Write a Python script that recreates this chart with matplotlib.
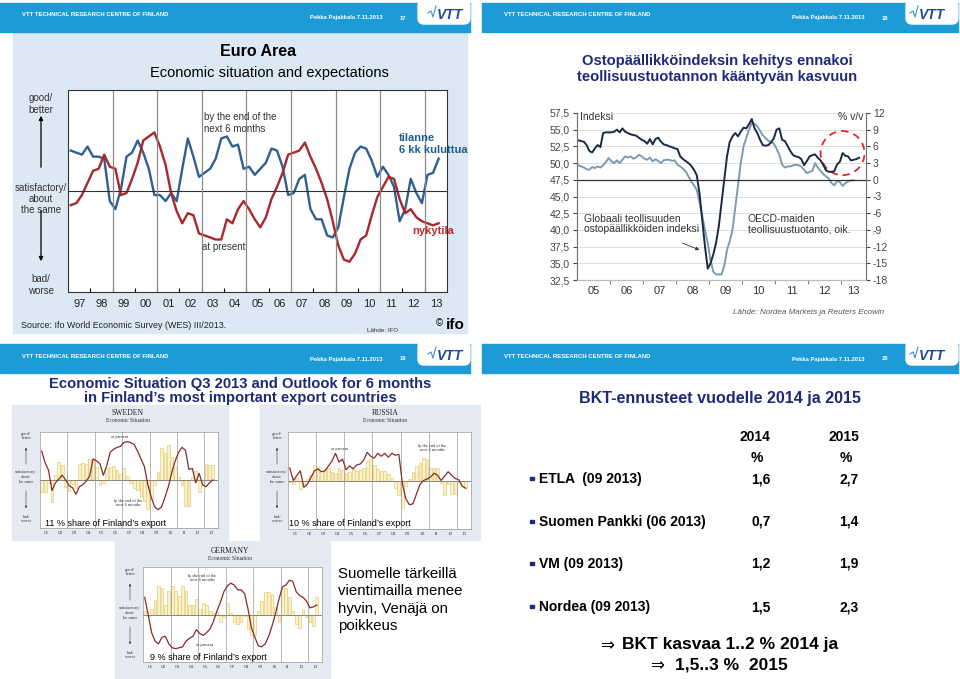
import matplotlib.pyplot as plt
from matplotlib.patches import Rectangle, FancyBboxPatch, Ellipse

plt.rcParams['font.family'] = ['Liberation Sans', 'DejaVu Sans']
plt.rcParams['axes.unicode_minus'] = False

# ---- slide 17: Ifo WES euro area, quarterly 1997Q1..2013Q3 (balance)
euro_expect = [20, 19, 18, 22, 17, 17, 16, -5, -9, 1, 17, 19, 25, 19, 11, -2,
               -2, -5, -1, -5, 11, 26, 17, 7, 9, 11, 16, 26, 27, 22, 23, 11,
               12, 8, 11, 14, 21, 20, 12, -2, -1, 6, 8, -9, -14, -14, -22, -23,
               -18, -3, 11, 19, 22, 21, 15, 7, 12, 8, 2, -15, -9, 6, -1, -6,
               8, 9, 16]
euro_present = [-7, -6, -2, 4, 10, 11, 18, 12, 11, -2, -1, 6, 14, 25, 27, 29,
                22, 13, -1, -10, -16, -11, -12, -21, -22, -23, -24, -24, -14, -16, -9, -5,
                -9, -14, -18, -13, -4, 2, 9, 18, 19, 20, 24, 17, 11, 4, -4, -15,
                -27, -34, -35, -31, -24, -22, -12, -3, 2, 7, 6, -4, -11, -9, -13, -15,
                -16, -17, -16]
euro_years = ['97', '98', '99', '00', '01', '02', '03', '04', '05', '06', '07',
              '08', '09', '10', '11', '12', '13']

# ---- slide 18: global PMI (index) and OECD industrial production (% y/y), monthly from 2005-01
pmi = [53.4, 53.3, 53.2, 52.7, 51.8, 51.6, 52.2, 52.7, 52.4, 54.5, 54.6, 54.6,
       54.6, 54.7, 55.0, 54.6, 55.2, 54.7, 54.5, 54.3, 54.2, 54.1, 53.8, 53.5,
       53.3, 52.9, 53.6, 52.8, 53.6, 53.8, 53.2, 52.8, 52.7, 52.5, 52.4, 52.2,
       52.1, 51.0, 50.6, 50.3, 50.0, 49.6, 49.0, 48.2, 45.5, 41.5, 37.5, 34.2,
       35.0, 36.3, 38.0, 40.5, 44.0, 47.5, 51.0, 53.2, 54.0, 54.5, 54.0, 54.7,
       55.3, 55.2, 55.8, 56.6, 55.2, 54.5, 53.5, 52.7, 52.6, 52.7, 53.1, 53.7,
       55.0, 55.2, 53.5, 53.3, 52.6, 51.8, 51.2, 51.0, 50.9, 50.6, 49.7, 50.3,
       51.0, 51.2, 51.3, 50.8, 50.4, 49.7, 48.9, 48.7, 48.7, 48.8, 49.8, 50.2,
       51.5, 51.1, 51.0, 50.4, 50.5, 50.6, 50.8]
oecd_ip = [2.6, 2.4, 2.2, 1.9, 1.8, 2.3, 2.1, 2.4, 2.2, 2.6, 3.2, 3.9,
           3.3, 3.0, 3.5, 3.0, 3.6, 4.2, 4.0, 4.2, 3.8, 4.0, 4.5, 4.2,
           3.8, 3.6, 4.0, 3.3, 3.7, 3.4, 3.0, 3.5, 3.6, 3.6, 3.4, 3.5,
           2.7, 2.4, 2.0, 1.5, 0.6, -0.3, -1.0, -1.8, -4.0, -6.5, -9.0, -11.4,
           -14.4, -16.5, -17.0, -17.0, -17.0, -15.5, -12.6, -11.0, -9.0, -5.0, -1.0, 3.0,
           6.0, 7.5, 9.0, 10.2, 10.0, 9.6, 8.8, 8.0, 7.5, 7.0, 6.8, 6.5,
           5.6, 4.5, 2.8, 2.2, 2.4, 2.4, 2.6, 2.7, 2.6, 2.4, 1.8, 1.2,
           1.4, 1.6, 3.0, 2.2, 1.6, 1.0, 0.6, 0.2, -0.6, -1.0, -0.2, -0.4,
           -1.1, -0.6, -0.3, -0.1, -0.1]
pmi_years = ['05', '06', '07', '08', '09', '10', '11', '12', '13']

# ---- slide 19: Ifo WES by country, quarterly 2001Q1..2013Q3
swe_present = [30, 18, 10, -11, -3, 1, 5, 0, -6, -8, -15, -7, -5, -1, 4, 22, 20,
               17, 5, 15, 29, 32, 34, 35, 39, 40, 39, 37, 30, 22, 14, -5, -18, -28,
               -31, -28, -18, -7, 8, 20, 29, 34, 31, 11, 12, -3, 7, -5, -7, -3, 0]
swe_expect = [-13, -12, -3, -23, 5, 19, 16, -7, -11, -4, -8, 17, 18, 17, 22, 21, 14,
              -5, -3, 12, 14, 15, 10, 6, 12, 4, -3, -8, -10, -18, -22, -30, -20, -5,
              8, 33, 28, 36, 24, 14, 3, -5, -27, -27, 3, 9, -12, -5, 17, 16, 16]
rus_present = [13, 0, 5, 10, -7, -4, 3, 10, 12, 9, 10, 15, 20, 28, 19, 22, 11,
               15, 12, 16, 17, 21, 29, 25, 23, 28, 25, 28, 24, 28, 26, 27, -3, -19,
               -25, -24, -14, -4, 0, 1.5, 3.5, 7.5, 5.5, 0, 4.5, 9, 5.5, 2, 1, -6, -8]
rus_expect = [-2, -4, 3, -9, -4, 2, 6, 16, 14, 10, 12, 13, 9, 8, 13, 11, 8,
              9, 12, 10, 11, 13, 20, 22, 16, 12, 10, 10, 7, 3, -8, -15, -28, -6,
              2, 9, 15, 18, 23, 22, 13, 13, 13, -3, -15, -4, -14, -14, -2, -5, -8]
ger_present = [18, 0, -19, -28, -31, -24, -23, -31, -35, -36, -35, -34, -28, -25, -23, -16, -20,
               -22, -19, -15, -7, 4, 13, 24, 30, 33, 31, 26, 26, 22, 6, -14, -24, -33,
               -34, -31, -23, -12, 1, 16, 29, 31, 36, 35, 24, 20, 18, 14, 7, 8, 10]
ger_expect = [4, -2, 6, 15, 30, 28, 10, 25, 30, 25, 20, 30, 25, 10, 10, 16, 6,
              12, 10, 4, 2, 4, -8, -3, 12, 2, -8, -10, -8, -2, -15, -22, -22, 4,
              14, 24, 24, 22, 8, -8, 27, 28, 18, 4, -10, -14, 6, -3, -8, -12, 18]
wes_years = ['01', '02', '03', '04', '05', '06', '07', '08', '09', '10', '11', '12', '13']

# ---- slide 20: GDP forecasts
forecasters = ['ETLA  (09 2013)', 'Suomen Pankki (06 2013)', 'VM (09 2013)', 'Nordea (09 2013)']
gdp_2014 = [1.6, 0.7, 1.2, 1.5]
gdp_2015 = [2.7, 1.4, 1.9, 2.3]

W, H = 960, 679
fig = plt.figure(figsize=(W / 100, H / 100), dpi=100)


def px_axes(x, y, w, h):
    return fig.add_axes([x / W, 1 - (y + h) / H, w / W, h / H])


bg = px_axes(0, 0, W, H)
bg.set_xlim(0, W)
bg.set_ylim(H, 0)
bg.axis('off')

NAVY = '#1e2a78'
HEAD = '#1d9bd7'

# slide backgrounds
bg.add_patch(Rectangle((13, 33), 454, 300, color='#dce8f4'))
bg.add_patch(Rectangle((12, 405), 216, 135, color='#e5eaf2'))
bg.add_patch(Rectangle((260, 405), 220, 135, color='#e5eaf2'))
bg.add_patch(Rectangle((115, 541), 215, 137, color='#e5eaf2'))
for x0, y0, w in [(0, 0, 470), (482, 0, 476), (0, 341, 470), (482, 341, 476)]:
    bg.add_patch(Rectangle((x0, y0 + 3), w, 29, color=HEAD))
    bg.add_patch(FancyBboxPatch((x0 + w - 52, y0), 52, 24,
                                boxstyle='round,pad=0,rounding_size=6', color='white'))

# ---- Euro area chart
ax = px_axes(68, 90, 379, 202)
xq = [1997 + (i + 0.5) / 4 for i in range(len(euro_expect))]
ax.plot(xq, euro_expect, color='#2f5f93', lw=1.7)
ax.plot(xq, euro_present, color='#a8282c', lw=1.7)
ax.axhline(0, color='#333333', lw=0.8)
for yr in range(1999, 2014, 2):
    ax.axvline(yr, color='#8c8c8c', lw=0.9)
ax.set_xlim(1997, 2014)
ax.set_ylim(-50, 50)
ax.set_yticks([])
ax.set_xticks(range(1998, 2014))
ax.tick_params(axis='x', which='major', direction='in', length=3, labelbottom=False)
ax.set_xticks([y + 0.5 for y in range(1997, 2014)], labels=euro_years, minor=True)
ax.tick_params(axis='x', which='minor', length=0, labelsize=8, pad=5, colors='#222222')
for sp in ax.spines.values():
    sp.set_color('#333333')
    sp.set_linewidth(0.8)

# ---- PMI vs OECD chart
ax2 = px_axes(577, 113, 289, 167)
axr = ax2.twinx()
ax2.set_zorder(axr.get_zorder() + 1)
ax2.patch.set_visible(False)
xm = [2005 + (i + 0.5) / 12 for i in range(len(pmi))]
xo = [2005 + (i + 0.5) / 12 for i in range(len(oecd_ip))]
axr.plot(xo, oecd_ip, color='#7c9bb5', lw=1.4)
ax2.plot(xm, pmi, color='#1b2a42', lw=1.4)
ax2.axhline(47.5, color='#333333', lw=0.9)
ax2.set_xlim(2005, 2013.75)
ax2.set_ylim(32.5, 57.5)
axr.set_ylim(-18, 12)
left_ticks = [32.5 + 2.5 * i for i in range(11)]
ax2.set_yticks(left_ticks, labels=[f'{v:.1f}'.replace('.', ',') for v in left_ticks])
axr.set_yticks(range(-18, 13, 3))
axr.grid(axis='y', color='#dedede', lw=0.7)
ax2.set_xticks(range(2006, 2014))
ax2.tick_params(axis='x', which='major', length=3, labelbottom=False, color='#888888')
ax2.set_xticks([y + 0.5 for y in range(2005, 2013)] + [2013.375], labels=pmi_years, minor=True)
ax2.tick_params(axis='x', which='minor', length=0, labelsize=8, colors='#333333', pad=4)
ax2.tick_params(axis='y', labelsize=7.5, colors='#444444', length=3, pad=2)
axr.tick_params(axis='y', labelsize=7.5, colors='#444444', length=3, pad=2)
for a in (ax2, axr):
    a.spines['top'].set_visible(False)
    a.spines['bottom'].set_color('#bbbbbb')
    a.spines['left'].set_color('#777777')
    a.spines['right'].set_color('#777777')
ax2.add_patch(Ellipse((2013.04, 51.5), 1.33, 6.6, fill=False, ec='#e0262a',
                      lw=1.3, ls=(0, (4, 3)), clip_on=False))


# ---- WES country mini charts
def mini_chart(box, present, expect):
    m = px_axes(*box)
    xs = [2001 + (i + 0.5) / 4 for i in range(len(present))]
    m.bar(xs, expect, width=0.2, color='#fbf2c9', edgecolor='#e3cd7c', lw=0.5, zorder=1)
    m.axhline(0, color='#777777', lw=0.6, zorder=2)
    for yr in range(2003, 2014, 2):
        m.axvline(yr, color='#9a9a9a', lw=0.5, zorder=2)
    m.plot(xs, present, color='#8a2b2b', lw=0.9, zorder=3)
    m.set_xlim(2001, 2014)
    m.set_ylim(-50, 50)
    m.set_yticks([])
    m.set_xticks([y + 0.5 for y in range(2001, 2014)], labels=wes_years,
                 family='Liberation Serif')
    m.tick_params(length=0, labelsize=3.8, colors='#444444', pad=2)
    for sp in m.spines.values():
        sp.set_color('#999999')
        sp.set_linewidth(0.5)
    return m


mini_chart((40, 432, 178, 96), swe_present, swe_expect)
mini_chart((288, 432, 183, 97), rus_present, rus_expect)
mini_chart((143, 567, 179, 95), ger_present, ger_expect)

# ---- overlay for all text
fg = px_axes(0, 0, W, H)
fg.set_xlim(0, W)
fg.set_ylim(H, 0)
fg.axis('off')
fg.patch.set_visible(False)

for x0, y0, page in [(0, 0, '17'), (482, 0, '18'), (0, 341, '19'), (482, 341, '20')]:
    fg.text(x0 + 22, y0 + 15, 'VTT TECHNICAL RESEARCH CENTRE OF FINLAND', color='white',
            fontsize=4.3, fontweight='bold', va='center')
    fg.text(x0 + 310, y0 + 18, 'Pekka Pajakkala 7.11.2013', color='white',
            fontsize=4.2, fontweight='bold', va='center')
    fg.text(x0 + 403, y0 + 18, page, color='white', fontsize=4.2, fontweight='bold',
            va='center', ha='center')
    fg.text(x0 + 450, y0 + 15, 'VTT', color='#1f4a9c', fontsize=10, fontweight='black',
            style='italic', va='center', ha='center')
    fg.plot([x0 + 428, x0 + 431, x0 + 433, x0 + 436], [y0 + 13, y0 + 11, y0 + 17, y0 + 6],
            color='#3a8fd0', lw=0.8)

# slide 17 texts
fg.text(258, 52, 'Euro Area', fontsize=11.5, fontweight='bold', ha='center', va='center')
fg.text(269, 73, 'Economic situation and expectations', fontsize=10.5, ha='center', va='center')
fg.text(41, 104, 'good/\nbetter', fontsize=7, ha='center', va='center', color='#333333',
        linespacing=1.15)
fg.text(41, 199, 'satisfactory/\nabout\nthe same', fontsize=7, ha='center', va='center',
        color='#333333', linespacing=1.15)
fg.text(41, 285, 'bad/\nworse', fontsize=7, ha='center', va='center', color='#333333',
        linespacing=1.15)
fg.annotate('', xy=(41, 113), xytext=(41, 170),
            arrowprops=dict(arrowstyle='-|>', color='black', lw=0.9, mutation_scale=6))
fg.annotate('', xy=(41, 264), xytext=(41, 208),
            arrowprops=dict(arrowstyle='-|>', color='black', lw=0.9, mutation_scale=6))
fg.text(204, 123, 'by the end of the\nnext 6 months', fontsize=7, color='#333333',
        va='center', linespacing=1.15)
fg.text(202, 247, 'at present', fontsize=7, color='#333333', va='center')
fg.text(399, 144, 'tilanne\n6 kk kuluttua', fontsize=8, fontweight='bold', color='#1f5f8e',
        va='center', linespacing=1.25)
fg.text(412, 231, 'nykytila', fontsize=8, fontweight='bold', color='#c0282d', va='center')
fg.text(21, 325, 'Source: Ifo World Economic Survey (WES) III/2013.', fontsize=6.4,
        color='#222222', va='center')
fg.text(367, 330, 'Lähde: IFO', fontsize=4.5, color='#333333', va='center')
fg.text(439, 323, '©', fontsize=7, va='center', ha='center')
fg.text(455, 325, 'ifo', fontsize=11, fontweight='black', va='center', ha='center')

# slide 18 texts
fg.text(717, 69, 'Ostopäällikköindeksin kehitys ennakoi\nteollisuustuotannon kääntyvän kasvuun',
        fontsize=10.6, fontweight='bold', color=NAVY, ha='center', va='center', linespacing=1.2)
fg.text(580, 117, 'Indeksi', fontsize=7.5, color='#333333', va='center')
fg.text(863, 117, '% v/v', fontsize=7.5, color='#333333', va='center', ha='right')
fg.text(584, 224, 'Globaali teollisuuden\nostopäällikköiden indeksi', fontsize=7.5,
        color='#333333', va='center', linespacing=1.1)
fg.text(748, 224, 'OECD-maiden\nteollisuustuotanto, oik.', fontsize=7.5,
        color='#333333', va='center', linespacing=1.1)
fg.annotate('', xy=(702, 251), xytext=(680, 242),
            arrowprops=dict(arrowstyle='-|>', color='#333333', lw=0.6, mutation_scale=5))
fg.text(884, 312, 'Lähde: Nordea Markets ja Reuters Ecowin', fontsize=5.8, style='italic',
        color='#555555', va='center', ha='right')

# slide 19 texts
fg.text(240, 391, 'Economic Situation Q3 2013 and Outlook for 6 months\n'
        'in Finland\u2019s most important export countries', fontsize=10.6, fontweight='bold',
        color=NAVY, ha='center', va='center', linespacing=1.05)
serif = 'Liberation Serif'
for cx, cy, name in [(128, 413, 'SWEDEN'), (385, 413, 'RUSSIA'), (230, 551, 'GERMANY')]:
    fg.text(cx, cy, name, fontsize=5.5, family=serif, ha='center', va='center', color='#222222')
    fg.text(cx, cy + 8, 'Economic Situation', fontsize=4, family=serif, ha='center',
            va='center', color='#333333')
for lx, top, mid, bot in [(26, 436, 477, 519), (277, 436, 477, 519), (130, 572, 613, 655)]:
    fg.text(lx, top, 'good/\nbetter', fontsize=3.2, family=serif, ha='center', va='center',
            color='#333333')
    fg.text(lx, mid, 'satisfactory/\nabout\nthe same', fontsize=3.2, family=serif,
            ha='center', va='center', color='#333333')
    fg.text(lx, bot, 'bad/\nworse', fontsize=3.2, family=serif, ha='center', va='center',
            color='#333333')
    fg.annotate('', xy=(lx, top + 9), xytext=(lx, mid - 10),
                arrowprops=dict(arrowstyle='-|>', color='#333333', lw=0.4, mutation_scale=3))
    fg.annotate('', xy=(lx, bot - 8), xytext=(lx, mid + 11),
                arrowprops=dict(arrowstyle='-|>', color='#333333', lw=0.4, mutation_scale=3))
for nx, ny, note in [(120, 437, 'at present'), (128, 503, 'by the end of the\nnext 6 months'),
                     (340, 449, 'at present'), (432, 448, 'by the end of the\nnext 6 months'),
                     (202, 578, 'by the end of the\nnext 6 months'), (205, 645, 'at present')]:
    fg.text(nx, ny, note, fontsize=3.2, family=serif, ha='center', va='center',
            color='#333333', linespacing=1.1)
fg.text(45, 524, '11 % share of Finland\u2019s export', fontsize=6.5, va='center')
fg.text(289, 524, '10 % share of Finland\u2019s export', fontsize=6.5, va='center')
fg.text(150, 657, '9 % share of Finland\u2019s export', fontsize=6.5, va='center')
fg.text(338, 600, 'Suomelle tärkeillä\nvientimailla menee\nhyvin, Venäjä on\npoikkeus',
        fontsize=10.8, va='center', linespacing=1.3)

# slide 20 texts
fg.text(720, 398, 'BKT-ennusteet vuodelle 2014 ja 2015', fontsize=11.6, fontweight='bold',
        color=NAVY, ha='center', va='center')
for cx, yr in [(755, '2014'), (844, '2015')]:
    fg.text(cx, 437, yr, fontsize=10, fontweight='bold', ha='center', va='center')
    fg.text(cx + 2, 458, '%', fontsize=10, fontweight='bold', ha='center', va='center')
row_y = [479, 522, 564, 607]
for yy, name, v14, v15 in zip(row_y, forecasters, gdp_2014, gdp_2015):
    bg.add_patch(Rectangle((530, yy - 2.5), 3.5, 3.5, color=NAVY))
    fg.text(539, yy, name, fontsize=10, fontweight='bold', va='center')
    fg.text(761, yy, f'{v14:.1f}'.replace('.', ','), fontsize=10, fontweight='bold',
            ha='center', va='center')
    fg.text(849, yy, f'{v15:.1f}'.replace('.', ','), fontsize=10, fontweight='bold',
            ha='center', va='center')
fg.text(607, 646, '\u21d2', fontsize=12, ha='center', va='center')
fg.text(622, 645, 'BKT kasvaa 1..2 % 2014 ja', fontsize=12.5, fontweight='bold', va='center')
fg.text(657, 666, '\u21d2', fontsize=12, ha='center', va='center')
fg.text(675, 665, '1,5..3 %  2015', fontsize=12.5, fontweight='bold', va='center')

fig.savefig('out.png', dpi=100)
